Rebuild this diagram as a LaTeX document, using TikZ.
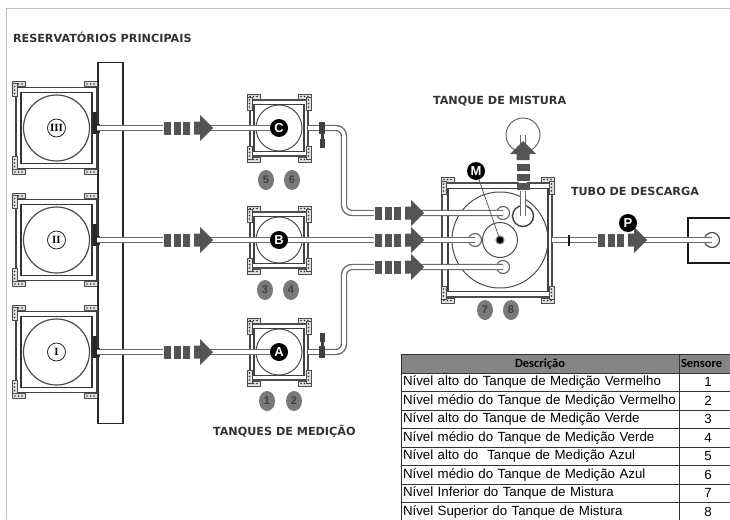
\documentclass[tikz,border=0pt]{standalone}
\usepackage{fontspec}
\usetikzlibrary{shapes.geometric,calc}
\setmainfont{Liberation Sans}
\newfontfamily\titlefont{DejaVu Sans}
\newfontfamily\headfont{Carlito}
\newfontfamily\romanfont{Liberation Serif}
\definecolor{pipegray}{gray}{0.42}
\definecolor{markgray}{gray}{0.33}
\definecolor{sensorgray}{gray}{0.48}
\begin{document}
\begin{tikzpicture}[
	x=1pt, y=-1pt,
	every node/.style={inner sep=0pt, outer sep=0pt},
	title/.style={font=\titlefont\bfseries\fontsize{11.2}{12}\selectfont, text=black!80, anchor=west},
	resbox/.style={draw=black!75, line width=1.2pt, minimum width=81pt, minimum height=81pt},
	resinner/.style={draw=black!80, line width=1.4pt, minimum width=71pt, minimum height=71pt},
	resdisc/.style={circle, draw=black!70, line width=1.2pt, minimum size=66pt},
	reslabel/.style={circle, draw=black!85, fill=white, line width=.8pt, minimum size=18pt, font=\romanfont\bfseries\fontsize{11}{12}\selectfont},
	tankbox/.style={draw=black!70, line width=1.2pt, minimum width=58pt, minimum height=56pt},
	tankinner/.style={draw=black!75, line width=1.2pt, minimum width=50pt, minimum height=47pt},
	tankdisc/.style={circle, draw=black!70, line width=1pt, minimum size=46pt},
	tag/.style={circle, fill=black, text=white, minimum size=18pt, font=\bfseries\fontsize{13}{14}\selectfont},
	sensor/.style={ellipse, fill=sensorgray, text=black!75, minimum width=16pt, minimum height=20pt, font=\bfseries\fontsize{11}{12}\selectfont},
	pipe/.style={draw=white, line width=3.6pt, preaction={draw=pipegray, line width=6.4pt}},
	tip/.style={circle, draw=pipegray, line width=1.2pt, minimum size=13pt},
	descCell/.style={draw=black!80, line width=.7pt, anchor=north west, minimum height=18.5pt, text width=274pt, inner xsep=2pt, align=left, font=\fontsize{13.3}{14}\selectfont},
	numCell/.style={draw=black!80, line width=.7pt, anchor=north west, minimum height=18.5pt, text width=58pt, align=center, font=\fontsize{13.3}{14}\selectfont},
	pics/flowmark/.style={code={
		\fill[white] (-1,-4) rectangle (31,4);
		\foreach \px in {0,9.5,19}
			\fill[markgray] (\px,-6.5) rectangle ++(7,13);
		\fill[markgray] (30,-6.5) -- (36,-6.5) -- (36,-13) -- (49,0) -- (36,13) -- (36,6.5) -- (30,6.5) -- cycle;
	}},
	pics/lug/.style={code={
		\draw[black!70, fill=black!12, line width=.6pt] (0,0) rectangle (13,5);
		\foreach \px in {3,6.5,10}
			\fill[black!80] (\px,2.5) circle (.9);
	}}
]
% outer frame
\useasboundingbox (0,0) rectangle (730,519);
\draw[black!25, line width=1pt] (730,9) -| (6,519);

\node[title] (titleRes) at (13,37) {RESERVATÓRIOS PRINCIPAIS};
\node[title] (titleMed) at (213,431) {TANQUES DE MEDIÇÃO};
\node[title] (titleMix) at (433,101) {TANQUE DE MISTURA};
\node[title] (titleOut) at (571,191) {TUBO DE DESCARGA};

% main reservoirs and column
\node[draw=black!85, line width=1.4pt, minimum width=25pt, minimum height=361pt] (column) at (110.5,243) {};
\foreach \name/\ry in {resIII/128,resII/240,resI/352} {
	\node[resbox, fill=white] (\name) at (56.5,\ry) {};
	\node[resinner] at (\name) {};
	\node[resdisc] at (\name) {};
	\pic at ($(\name.north west)+(-4,-6)$) {lug};
	\pic[rotate=-90] at ($(\name.north west)+(1,-4)$) {lug};
	\pic at ($(\name.south west)+(-4,1)$) {lug};
	\pic[rotate=-90] at ($(\name.south west)+(1,-12)$) {lug};
	\pic at ($(\name.north east)+(-13,-6)$) {lug};
	\pic at ($(\name.south east)+(-13,1)$) {lug};
	\fill[black!85] ($(\name.east)+(-4,-16)$) rectangle ++(4,22);
	\fill[black!85] ($(\name.east)+(-3,-4)$) rectangle ++(6,9);
}

% measuring tanks
\foreach \name/\tx/\ty in {tankC/279/128,tankB/279/240,tankA/279/352} {
	\node[tankbox] (\name) at (\tx,\ty) {};
	\node[tankinner] at (\name) {};
	\node[tankdisc] at (\name) {};
	\pic at ($(\name.north west)+(-3,-6)$) {lug};
	\pic at ($(\name.north east)+(-10,-6)$) {lug};
	\pic at ($(\name.south west)+(-3,1)$) {lug};
	\pic at ($(\name.south east)+(-10,1)$) {lug};
	\pic[rotate=-90] at ($(\name.north west)+(2,-3)$) {lug};
	\pic[rotate=-90] at ($(\name.north east)+(3,-3)$) {lug};
	\pic[rotate=-90] at ($(\name.south west)+(2,-10)$) {lug};
	\pic[rotate=-90] at ($(\name.south east)+(3,-10)$) {lug};
}

% mixing tank
\node[draw=black!70, line width=1.2pt, minimum width=110pt, minimum height=114pt] (mixBox) at (497,240) {};
\node[draw=black!75, line width=1.2pt, minimum width=100pt, minimum height=103pt] (mixInner) at (498,240) {};
\node[circle, draw=black!70, line width=1pt, minimum size=96pt] (mixDisc) at (500,240) {};
\node[circle, draw=black!70, line width=1pt, minimum size=35pt] (mixCore) at (500,240) {};
\node[circle, fill=black, draw=black!50, line width=1pt, minimum size=8pt] (mixShaft) at (500,240) {};
\pic at ($(mixBox.north west)+(-1,-6)$) {lug};
\pic at ($(mixBox.north east)+(-11,-6)$) {lug};
\pic at ($(mixBox.south west)+(-1,1)$) {lug};
\pic at ($(mixBox.south east)+(-11,1)$) {lug};
\pic[rotate=-90] at ($(mixBox.north west)+(4,-2)$) {lug};
\pic[rotate=-90] at ($(mixBox.north east)+(2,-2)$) {lug};
\pic[rotate=-90] at ($(mixBox.south west)+(4,-11)$) {lug};
\pic[rotate=-90] at ($(mixBox.south east)+(2,-11)$) {lug};

% pipe ends inside the mixing tank
\node[tip] (tipC) at (503,213) {};
\node[tip] (tipB) at (475,240) {};
\node[tip] (tipA) at (503,267) {};
\node[circle, draw=black!75, line width=1.4pt, minimum size=21pt] (ringOut) at (523,216) {};
\node[circle, draw=black!60, line width=1pt, minimum size=34pt] (ringTop) at (523,135) {};
\node[circle, draw=black!70, line width=1.2pt, minimum size=15pt] (ringEnd) at (712,240) {};
\node[draw=black!90, line width=1.2pt, anchor=west, minimum width=50pt, minimum height=45pt] (dischargeBox) at (688,240.5) {};

\coordinate (riserC) at (344,170);
\coordinate (riserA) at (344,310);

% pipes
\draw[pipe] (resIII.east) -- (tankC.center);
\draw[pipe] (resII.east) -- (tipB.center);
\draw[pipe] (resI.east) -- (tankA.center);
\draw[pipe, rounded corners=8pt] (tankC.east) -| (riserC) |- (tipC.center);
\draw[pipe, rounded corners=8pt] (tankA.east) -| (riserA) |- (tipA.center);
\draw[pipe, line cap=round] (ringOut.center) -- (ringTop.center);
\draw[pipe] (mixBox.east) -- (ringEnd.center);
\draw[black!90, line width=1.2pt] (569,234.5) -- (569,246);

% valves
\foreach \name/\vy/\sy in {valveC/128/143,valveA/352/337} {
	\node[fill=black!75, minimum width=6pt, minimum height=12pt] (\name) at (322,\vy) {};
	\node[fill=black!75, minimum width=5pt, minimum height=9pt] (\name Stem) at (322,\sy) {};
	\draw[black!75, line width=3pt] (\name) -- (\name Stem);
}

% flow markers
\foreach \mx/\my in {164/128,164/240,164/352,375/213,375/240,375/267,598/240}
	\pic at (\mx,\my) {flowmark};
\pic[rotate=90] at (523,190) {flowmark};

% tags
\node[reslabel] at (resIII) {III};
\node[reslabel] at (resII) {II};
\node[reslabel] at (resI) {I};
\node[tag] (tagC) at (tankC) {C};
\node[tag] (tagB) at (tankB) {B};
\node[tag] (tagA) at (tankA) {A};
\node[tag] (tagM) at (476,171) {M};
\node[tag] (tagP) at (628,223) {P};
\draw[black!70, line width=.7pt] (tagM) -- (mixShaft);

% sensors
\foreach \lbl/\sx/\sy in {1/267/401,2/294/401,3/265/290,4/291/290,5/266/180,6/292/180,7/485/310,8/511/310}
	\node[sensor] (sensor\lbl) at (\sx,\sy) {\lbl};

% table
\node[descCell, fill=black!48, align=center, font=\headfont\bfseries\fontsize{12.5}{14}\selectfont] (headDesc) at (401,354.5) {Descrição};
\node[numCell, fill=black!48, align=left, font=\headfont\bfseries\fontsize{12.5}{14}\selectfont, text width=55pt, inner xsep=2pt] (headNum) at (679,354.5) {Sensore};
\foreach \txt/\num [count=\i, evaluate=\i as \ry using 373+(\i-1)*18.5] in {
	Nível alto do Tanque de Medição Vermelho/1,
	Nível médio do Tanque de Medição Vermelho/2,
	Nível alto do Tanque de Medição Verde/3,
	Nível médio do Tanque de Medição Verde/4,
	Nível alto do~ Tanque de Medição Azul/5,
	Nível médio do Tanque de Medição Azul/6,
	Nível Inferior do Tanque de Mistura/7,
	Nível Superior do Tanque de Mistura/8} {
	\node[descCell] (desc\i) at (401,\ry) {\txt};
	\node[numCell] (num\i) at (679,\ry) {\num};
}
\end{tikzpicture}
\end{document}
